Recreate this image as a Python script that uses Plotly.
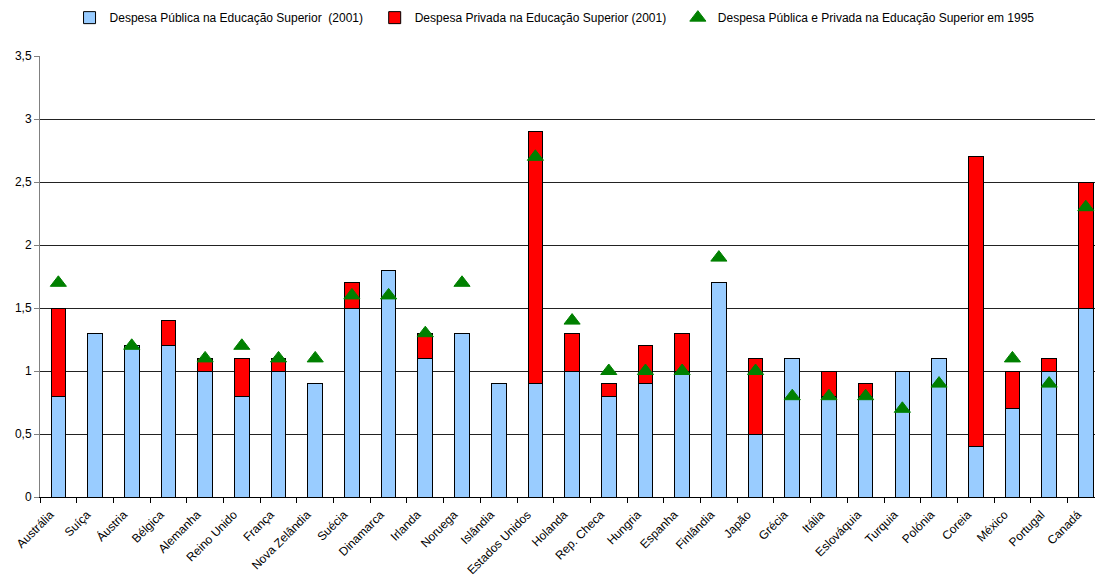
import plotly.graph_objects as go

paises = ["Austrália", "Suíça", "Áustria", "Bélgica", "Alemanha", "Reino Unido", "França",
          "Nova Zelândia", "Suécia", "Dinamarca", "Irlanda", "Noruega", "Islândia",
          "Estados Unidos", "Holanda", "Rep. Checa", "Hungria", "Espanha", "Finlândia",
          "Japão", "Grécia", "Itália", "Eslováquia", "Turquia", "Polónia", "Coreia",
          "México", "Portugal", "Canadá"]

publica_2001 = [0.8, 1.3, 1.2, 1.2, 1.0, 0.8, 1.0, 0.9, 1.5, 1.8, 1.1, 1.3, 0.9,
                0.9, 1.0, 0.8, 0.9, 1.0, 1.7, 0.5, 1.1, 0.8, 0.8, 1.0, 1.1, 0.4,
                0.7, 1.0, 1.5]

privada_2001 = [0.7, 0.0, 0.0, 0.2, 0.1, 0.3, 0.1, 0.0, 0.2, 0.0, 0.2, 0.0, 0.0,
                2.0, 0.3, 0.1, 0.3, 0.3, 0.0, 0.6, 0.0, 0.2, 0.1, 0.0, 0.0, 2.3,
                0.3, 0.1, 1.0]

total_1995 = [1.7, None, 1.2, None, 1.1, 1.2, 1.1, 1.1, 1.6, 1.6, 1.3, 1.7, None,
              2.7, 1.4, 1.0, 1.0, 1.0, 1.9, 1.0, 0.8, 0.8, 0.8, 0.7, 0.9, None,
              1.1, 0.9, 2.3]

y_ticks = [0, 0.5, 1, 1.5, 2, 2.5, 3, 3.5]

# non-breaking spaces keep the legend entries apart
pad = "\u00a0\u00a0"

fig = go.Figure()
fig.add_trace(go.Bar(
    x=paises, y=publica_2001,
    name="Despesa Pública na Educação Superior \u00a0(2001)" + pad,
    marker=dict(color="#99ccff", line=dict(color="#000000", width=1)),
))
fig.add_trace(go.Bar(
    x=paises, y=privada_2001,
    name="Despesa Privada na Educação Superior (2001)" + pad,
    marker=dict(color="#ff0000", line=dict(color="#000000", width=1)),
))
fig.add_trace(go.Scatter(
    x=paises, y=total_1995, mode="markers",
    name="Despesa Pública e Privada na Educação Superior em 1995",
    marker=dict(symbol="triangle-up", size=14, color="#008000",
                line=dict(color="#008000", width=1)),
))

fig.update_layout(
    width=1095, height=585,
    barmode="stack", bargap=0.6,
    separators=", ",
    plot_bgcolor="#ffffff", paper_bgcolor="#ffffff",
    font=dict(family="Liberation Sans, Arial, sans-serif", size=12, color="#000000"),
    margin=dict(l=40, r=0, t=56, b=88, autoexpand=False),
    showlegend=True,
    legend=dict(orientation="h", x=0.028, xanchor="left", y=1.087, yanchor="middle",
                font=dict(size=12), itemwidth=30, traceorder="normal"),
    xaxis=dict(
        type="category", tickangle=-45, ticks="outside", tickson="boundaries",
        ticklen=5, tickcolor="#000000", showline=True, linecolor="#000000",
        showgrid=False, tickfont=dict(size=12), range=[-0.5, 28.25],
        ticklabelstandoff=5, ticklabelshift=-8,
    ),
    yaxis=dict(
        range=[0, 3.5], tickvals=y_ticks, ticks="outside", ticklen=5,
        tickcolor="#808080", showline=True, linecolor="#808080",
        showgrid=True, gridcolor="#222222", gridwidth=1, zeroline=False,
        tickfont=dict(size=12),
    ),
)

fig.write_html("out.html")
